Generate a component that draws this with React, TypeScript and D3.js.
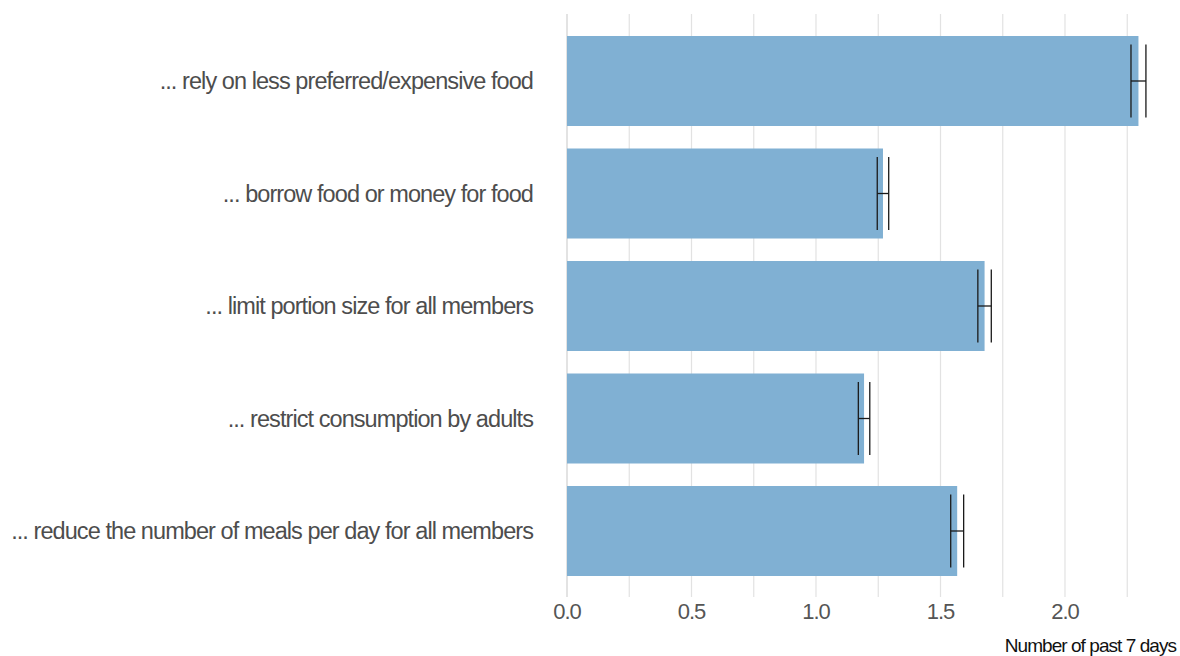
import React from "react";
import * as d3 from "d3";

const categories = [
  "... rely on less preferred/expensive food",
  "... borrow food or money for food",
  "... limit portion size for all members",
  "... restrict consumption by adults",
  "... reduce the number of meals per day for all members",
];
const means = [2.295, 1.269, 1.677, 1.193, 1.567];
const errors = [0.03, 0.023, 0.027, 0.023, 0.026];
const gridValues = [0, 0.25, 0.5, 0.75, 1, 1.25, 1.5, 1.75, 2, 2.25];
const tickValues = [0, 0.5, 1, 1.5, 2];
const axisTitle = "Number of past 7 days";

const W = 1180;
const H = 656;

export default function App() {
  const x = d3.scaleLinear().domain([0, 2.25]).range([567, 567 + 2.25 * 249]);
  const y = d3
    .scaleBand<string>()
    .domain(categories)
    .range([24.75, 587.25])
    .paddingInner(0.2)
    .paddingOuter(0.1);
  const bw = y.bandwidth();
  const font = "'Liberation Sans', Arial, sans-serif";

  return (
    <svg
      width={W}
      height={H}
      style={{ position: "absolute", left: 0, top: 0, background: "#fff" }}
    >
      {gridValues.map((g) => (
        <line
          key={g}
          x1={x(g)}
          x2={x(g)}
          y1={14}
          y2={597}
          stroke={g === 0 ? "#d0d0d0" : "#e2e2e2"}
          strokeWidth={1.2}
        />
      ))}
      {categories.map((c, i) => {
        const y0 = y(c)!;
        const cy = y0 + bw / 2;
        const lo = x(means[i] - errors[i]);
        const hi = x(means[i] + errors[i]);
        return (
          <g key={c}>
            <rect x={x(0)} y={y0} width={x(means[i]) - x(0)} height={bw} fill="#80b0d3" />
            <line x1={lo} x2={hi} y1={cy} y2={cy} stroke="#1a1a1a" strokeWidth={1.3} />
            <line x1={lo} x2={lo} y1={y0 + 8.5} y2={y0 + bw - 8.5} stroke="#1a1a1a" strokeWidth={1.3} />
            <line x1={hi} x2={hi} y1={y0 + 8.5} y2={y0 + bw - 8.5} stroke="#1a1a1a" strokeWidth={1.3} />
            <text
              x={533}
              y={cy}
              textAnchor="end"
              dominantBaseline="central"
              fontFamily={font}
              fontSize={23.5}
              letterSpacing={-0.93}
              fill="#4d4d4d"
            >
              {c}
            </text>
          </g>
        );
      })}
      {tickValues.map((t) => (
        <text
          key={t}
          x={x(t)}
          y={611}
          textAnchor="middle"
          dominantBaseline="central"
          fontFamily={font}
          fontSize={22}
          letterSpacing={-1}
          fill="#555"
        >
          {t.toFixed(1)}
        </text>
      ))}
      <text
        x={1176}
        y={645}
        textAnchor="end"
        dominantBaseline="central"
        fontFamily={font}
        fontSize={19}
        letterSpacing={-0.95}
        fill="#111"
      >
        {axisTitle}
      </text>
    </svg>
  );
}
